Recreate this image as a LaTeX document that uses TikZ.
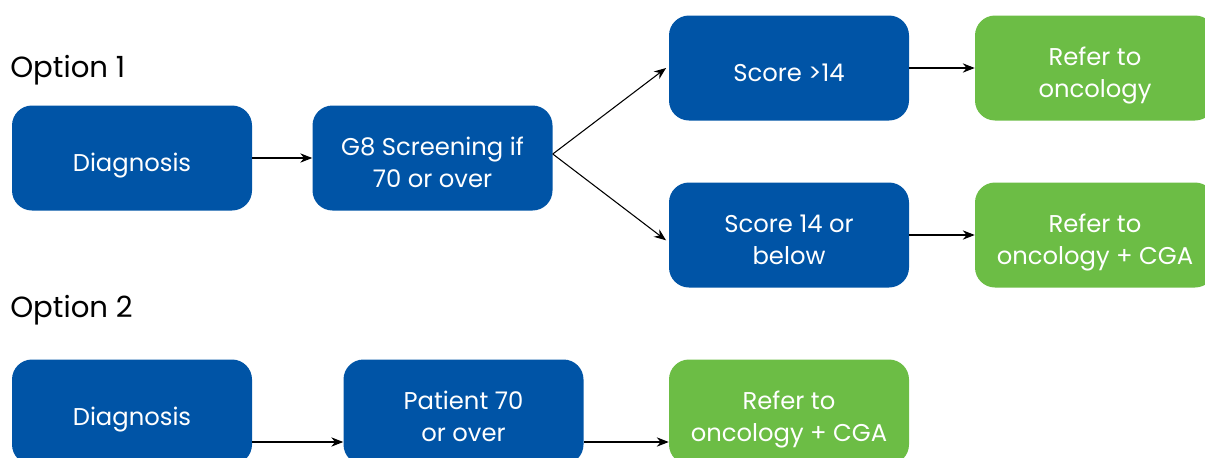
\documentclass[tikz,border=0pt]{standalone}
\usepackage{fontspec}
\setmainfont{Poppins}
\usetikzlibrary{arrows.meta}
\definecolor{nhsblue}{HTML}{0054A6}
\definecolor{nhsgreen}{HTML}{6CBD45}
\newcommand{\bxt}[1]{\raisebox{-5.3pt}[\height][\depth]{\begin{tabular}{@{}c@{}}#1\end{tabular}}}
\tikzset{
  box/.style={rounded corners=15pt, minimum width=180pt, minimum height=78.75pt,
    align=center, text=white, font=\fontsize{18.2}{24}\selectfont, inner sep=0pt},
  bluebox/.style={box, fill=nhsblue},
  greenbox/.style={box, fill=nhsgreen},
  conn/.style={-{Stealth[length=9pt,width=7pt]}, line width=0.8pt, black},
  lbl/.style={anchor=base west, font=\fontsize{21.9}{26}\selectfont, text=black, inner sep=0pt}
}
\begin{document}
\begin{tikzpicture}[x=0.75pt,y=-0.75pt]
\path[use as bounding box] (0,0) rectangle (1205,457);
\begin{scope}
\clip (0,0) rectangle (1205,457);
\node[lbl] (o1) at (10,77.3) {Option 1};
\node[lbl] (o2) at (10,317.3) {Option 2};
\node[bluebox] (d1) at (132,158) {\bxt{Diagnosis}};
\node[bluebox] (g8) at (432.5,158) {\bxt{G8 Screening if\\70 or over}};
\node[bluebox] (s1) at (789,68) {\bxt{Score >14}};
\node[bluebox] (s2) at (789,235) {\bxt{Score 14 or\\below}};
\node[greenbox] (r1) at (1095,68) {\bxt{Refer to\\oncology}};
\node[greenbox] (r2) at (1095,235) {\bxt{Refer to\\oncology + CGA}};
\node[bluebox] (d2) at (132,412) {\bxt{Diagnosis}};
\node[bluebox] (p2) at (463.5,412) {\bxt{Patient 70\\or over}};
\node[greenbox] (r3) at (789,412) {\bxt{Refer to\\oncology + CGA}};
\draw[conn] (d1.east) -- (g8.west);
\draw[conn] ([yshift=3pt]g8.east) -- ([xshift=-2pt]s1.west);
\draw[conn] ([yshift=3pt]g8.east) -- ([xshift=-2pt,yshift=-4pt]s2.west);
\draw[conn] (s1.east) -- (r1.west);
\draw[conn] (s2.east) -- (r2.west);
\draw[conn] ([yshift=-22.5pt]d2.east) -- ([yshift=-22.5pt]p2.west);
\draw[conn] ([yshift=-22.5pt]p2.east) -- ([yshift=-22.5pt]r3.west);
\end{scope}
\end{tikzpicture}
\end{document}
